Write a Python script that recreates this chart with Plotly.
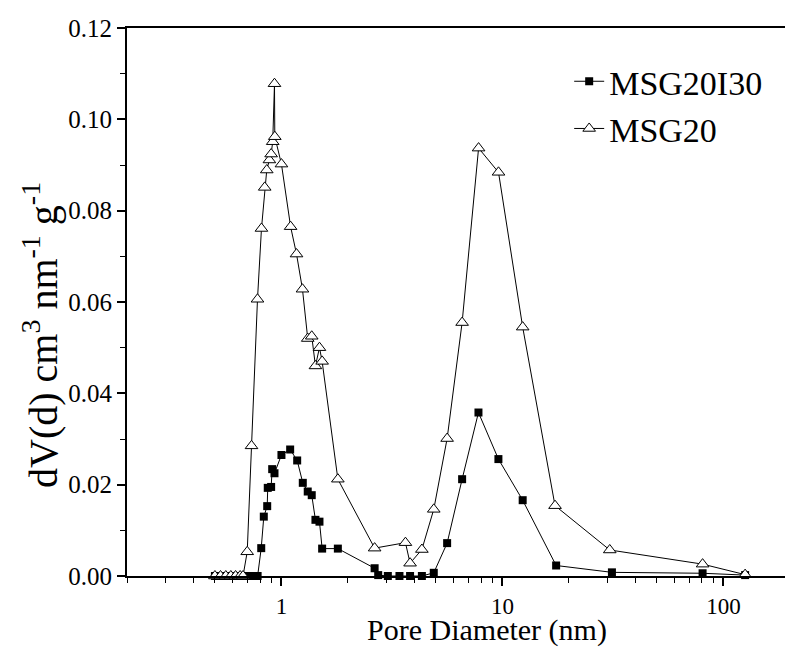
import numpy as np
import plotly.graph_objects as go

# MSG20I30 (filled squares)
x_msg20i30 = [0.50, 0.53, 0.56, 0.59, 0.62, 0.65, 0.67, 0.70, 0.73, 0.76, 0.78,
              0.81, 0.832, 0.862, 0.867, 0.898, 0.908, 0.93, 1.0, 1.095, 1.178,
              1.249, 1.315, 1.371, 1.425, 1.486, 1.528, 1.8, 2.64, 2.74, 3.03,
              3.42, 3.82, 4.32, 4.89, 5.62, 6.57, 7.79, 9.59, 12.35, 17.5, 31.3,
              80.5, 125.4]
y_msg20i30 = [0, 0, 0, 0, 0, 0, 0, 0, 0, 0, 0,
              0.0061, 0.0130, 0.0153, 0.0193, 0.0195, 0.0234, 0.0225, 0.0265,
              0.0277, 0.0253, 0.0204, 0.0185, 0.0177, 0.0123, 0.0119, 0.0060,
              0.0060, 0.0017, 0.0002, 0, 0, 0, 0, 0.0007, 0.0072, 0.0212,
              0.0358, 0.0256, 0.0166, 0.0023, 0.0008, 0.0006, 0.0002]

# MSG20 (open triangles)
x_msg20 = [0.50, 0.53, 0.56, 0.59, 0.62, 0.65, 0.67, 0.70, 0.732, 0.779, 0.812,
           0.84, 0.858, 0.882, 0.898, 0.913, 0.93, 0.933, 1.0, 1.10, 1.17, 1.245,
           1.315, 1.371, 1.425, 1.486, 1.528, 1.8, 2.64, 3.64, 3.82, 4.32, 4.89,
           5.62, 6.57, 7.8, 9.6, 12.35, 17.3, 30.6, 80.5, 125.4]
y_msg20 = [0, 0, 0, 0, 0, 0, 0, 0.0053, 0.0285, 0.0606, 0.0761,
           0.0851, 0.0889, 0.0911, 0.0924, 0.0951, 0.1078, 0.0962, 0.0902,
           0.0765, 0.0705, 0.0628, 0.0520, 0.0525, 0.0460, 0.0500, 0.0470,
           0.0212, 0.0061, 0.0073, 0.0028, 0.0058, 0.0146, 0.0301, 0.0555,
           0.0937, 0.0884, 0.0545, 0.0154, 0.0057, 0.0026, 0.0003]

x_tickvals = [1, 10, 100]
x_ticktext = ["1", "10", "100"]
y_tickvals = [0.00, 0.02, 0.04, 0.06, 0.08, 0.10, 0.12]
x_title = "Pore Diameter (nm)"
y_title = "dV(d) cm<sup>3</sup> nm<sup>-1</sup> g<sup>-1</sup>"

FONT = "Liberation Serif"
W, H = 785, 648
ML, MR, MT, MB = 127, 0, 28, 72
PW, PH = W - ML - MR, H - MT - MB

fig = go.Figure()
fig.add_trace(go.Scatter(
    x=x_msg20i30, y=y_msg20i30, mode="lines+markers", name="MSG20I30",
    line=dict(color="black", width=1),
    marker=dict(symbol="square", size=8, color="black"),
    cliponaxis=False,
))
fig.add_trace(go.Scatter(
    x=x_msg20, y=y_msg20, mode="lines+markers", name="MSG20",
    line=dict(color="black", width=1),
    marker=dict(symbol="triangle-up", size=11, color="white",
                line=dict(color="black", width=1)),
    cliponaxis=False,
))

fig.update_layout(
    width=W, height=H,
    margin=dict(l=ML, r=MR, t=MT, b=MB),
    paper_bgcolor="white", plot_bgcolor="white",
    font=dict(family=FONT, color="black", size=24),
    showlegend=True,
    legend=dict(x=0.672, y=0.955, xanchor="left", yanchor="top",
                bgcolor="rgba(0,0,0,0)", font=dict(size=34, family=FONT),
                tracegroupgap=0, itemwidth=30),
    xaxis=dict(
        type="log", range=[np.log10(0.2), np.log10(190)],
        showline=True, linewidth=2, linecolor="black", mirror=True,
        showgrid=False, zeroline=False,
        tickvals=x_tickvals, ticktext=x_ticktext,
        ticks="outside", ticklen=8, tickwidth=1.5, tickcolor="black",
        tickfont=dict(size=23, family=FONT),
        minor=dict(dtick="D1", ticks="outside", ticklen=5, tickwidth=1,
                   tickcolor="black", showgrid=False),
    ),
    yaxis=dict(
        range=[0, 0.12],
        showline=True, linewidth=2, linecolor="black", mirror=False,
        showgrid=False, zeroline=False,
        tickvals=y_tickvals, tickformat=".2f",
        ticks="outside", ticklen=8, tickwidth=1.5, tickcolor="black",
        tickfont=dict(size=25, family=FONT),
        minor=dict(tickvals=[0.01, 0.03, 0.05, 0.07, 0.09, 0.11],
                   ticks="outside", ticklen=5, tickwidth=1,
                   tickcolor="black", showgrid=False),
    ),
    annotations=[
        dict(text=x_title, xref="paper", yref="paper",
             x=(487 - ML) / PW, y=0, yshift=-(630 - (H - MB)),
             xanchor="center", yanchor="middle", showarrow=False,
             borderpad=0, font=dict(size=30, family=FONT)),
        dict(text=y_title, xref="paper", yref="paper",
             x=(40 - ML) / PW, y=((H - MB) - 335) / PH,
             xanchor="center", yanchor="middle", showarrow=False,
             textangle=-90, font=dict(size=40, family=FONT)),
    ],
)

fig.write_html("out.html")
